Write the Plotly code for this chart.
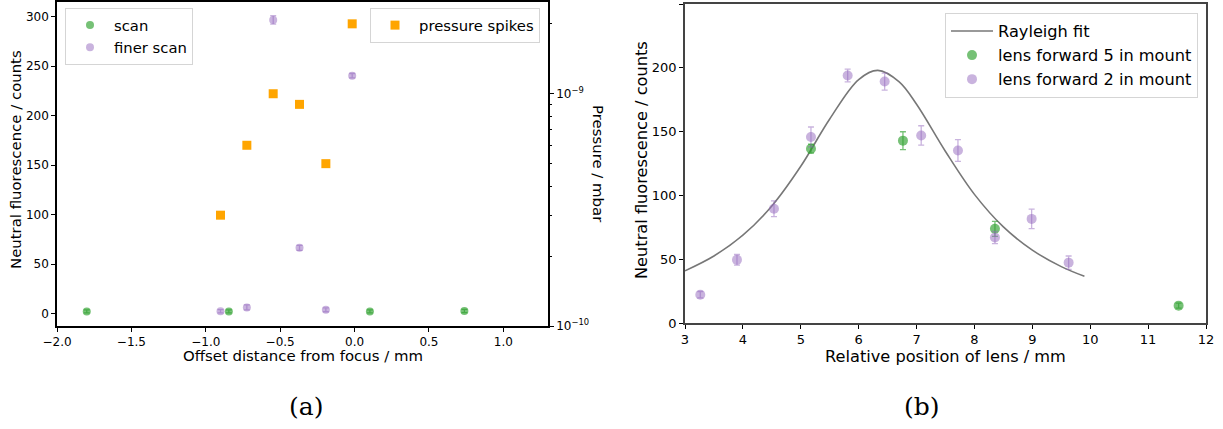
import plotly.graph_objects as go

# ---------------- data (panel a) ----------------
scan_x = [-1.80, -0.845, 0.103, 0.738]
scan_y = [2.3, 2.3, 2.3, 2.7]
scan_err = [1.5, 1.5, 1.5, 1.6]

finer_x = [-0.901, -0.724, -0.547, -0.370, -0.193, -0.016]
finer_y = [2.5, 6.4, 296.7, 66.5, 4.0, 240.4]
finer_err = [1.6, 2.5, 4.2, 2.5, 2.0, 2.2]

pressure_x = [-0.901, -0.724, -0.547, -0.370, -0.193, -0.016]
pressure_mbar = [3e-10, 6e-10, 1e-9, 9e-10, 5e-10, 2e-9]

# ---------------- data (panel b) ----------------
fwd2_x = [3.264, 3.898, 4.537, 5.176, 5.810, 6.449, 7.080, 7.715, 8.354, 8.988, 9.627]
fwd2_y = [22.2, 49.5, 89.5, 145.8, 193.9, 189.2, 147.0, 135.2, 67.0, 81.6, 47.3]
fwd2_err = [2.5, 4.2, 6.2, 7.8, 5.0, 6.7, 7.6, 8.5, 4.8, 7.6, 5.2]

fwd5_x = [5.176, 6.765, 8.354, 11.527]
fwd5_y = [136.6, 142.9, 73.8, 13.6]
fwd5_err = [3.5, 7.0, 5.9, 2.0]

fit_x = [3.0, 3.5, 4.0, 4.5, 5.0, 5.5, 6.0, 6.33, 6.7, 7.0, 7.5, 8.0, 8.5, 9.0, 9.5, 9.9]
fit_y = [40.9, 52.5, 68.8, 91.7, 122.8, 159.9, 190.8, 198.0, 189.0, 171.4, 134.4, 100.8, 75.3, 57.1, 44.2, 36.6]

# tick labels
left_xticks = [-2.0, -1.5, -1.0, -0.5, 0.0, 0.5, 1.0]
left_yticks = [0, 50, 100, 150, 200, 250, 300]
press_ticks = [1e-10, 1e-9]
press_ticktext = ["10<sup>\u221210</sup>", "10<sup>\u22129</sup>"]
right_xticks = [3, 4, 5, 6, 7, 8, 9, 10, 11, 12]
right_yticks = [0, 50, 100, 150, 200, 250]

GREEN = "rgba(44,160,44,0.65)"
PURPLE = "rgba(148,103,189,0.5)"
ORANGE = "#FFA500"
FONT = "DejaVu Sans"
W, H = 1223, 429

fig = go.Figure()

# panel a
fig.add_trace(go.Scatter(
    x=scan_x, y=scan_y, mode="markers", name="scan",
    marker=dict(color=GREEN, size=8),
    error_y=dict(type="data", array=scan_err, color=GREEN, thickness=1.3, width=3),
    xaxis="x", yaxis="y", legend="legend"))
fig.add_trace(go.Scatter(
    x=finer_x, y=finer_y, mode="markers", name="finer scan",
    marker=dict(color=PURPLE, size=8),
    error_y=dict(type="data", array=finer_err, color=PURPLE, thickness=1.3, width=3),
    xaxis="x", yaxis="y", legend="legend"))
fig.add_trace(go.Scatter(
    x=pressure_x, y=pressure_mbar, mode="markers", name="pressure spikes",
    marker=dict(color=ORANGE, size=9, symbol="square"),
    xaxis="x", yaxis="y2", legend="legend2"))

# panel b
fig.add_trace(go.Scatter(
    x=fit_x, y=fit_y, mode="lines", name="Rayleigh fit",
    line=dict(color="#777777", width=1.6, shape="spline", smoothing=1.0),
    xaxis="x2", yaxis="y3", legend="legend3"))
fig.add_trace(go.Scatter(
    x=fwd5_x, y=fwd5_y, mode="markers", name="lens forward 5 in mount",
    marker=dict(color=GREEN, size=10),
    error_y=dict(type="data", array=fwd5_err, color=GREEN, thickness=1.3, width=3),
    xaxis="x2", yaxis="y3", legend="legend3"))
fig.add_trace(go.Scatter(
    x=fwd2_x, y=fwd2_y, mode="markers", name="lens forward 2 in mount",
    marker=dict(color=PURPLE, size=10),
    error_y=dict(type="data", array=fwd2_err, color=PURPLE, thickness=1.3, width=3),
    xaxis="x2", yaxis="y3", legend="legend3"))

def px_x(p):
    return p / W

def px_y(p):
    return 1 - p / H

def axis_style(size, color="black"):
    return dict(showgrid=False, zeroline=False, showline=True, linecolor=color,
                linewidth=1.5, ticks="outside", ticklen=4, tickwidth=1.2, tickcolor="black",
                tickfont=dict(family=FONT, size=size, color="black"), automargin=False)

def legend_style(size, itemwidth):
    return dict(font=dict(family=FONT, size=size, color="black"), bgcolor="rgba(255,255,255,0.8)",
                bordercolor="#d5d5d5", borderwidth=1, itemwidth=itemwidth)

fig.update_layout(
    template="none",
    width=W, height=H, margin=dict(l=0, r=0, t=0, b=0, pad=0, autoexpand=False),
    paper_bgcolor="white", plot_bgcolor="rgba(0,0,0,0)",
    font=dict(family=FONT, color="black"),
    xaxis=dict(domain=[px_x(57), px_x(548)], range=[-2.0, 1.3], anchor="y",
               tickvals=left_xticks, tickformat=".1f", mirror=True, **axis_style(12)),
    yaxis=dict(domain=[px_y(326), px_y(2)], range=[-12.4, 314.8], anchor="x",
               tickvals=left_yticks, **axis_style(12)),
    yaxis2=dict(type="log", overlaying="y", side="right", anchor="x",
                range=[-10, -8.605], tickvals=press_ticks, ticktext=press_ticktext,
                minor=dict(ticks="outside", ticklen=2.5, tickcolor="black",
                           tickvals=[k * 1e-10 for k in range(2, 10)] + [2e-9]),
                **axis_style(12)),
    xaxis2=dict(domain=[px_x(685), px_x(1206)], range=[3, 12], anchor="y3",
                tickvals=right_xticks, mirror=True, **axis_style(13, "#444444")),
    yaxis3=dict(domain=[px_y(323), px_y(4)], range=[0, 250], anchor="x2",
                tickvals=right_yticks, mirror=True, **axis_style(13, "#444444")),
    legend=dict(x=px_x(65), y=px_y(8), xanchor="left", yanchor="top", **legend_style(14.8, 38)),
    legend2=dict(x=px_x(540), y=px_y(8), xanchor="right", yanchor="top", **legend_style(14.8, 38)),
    legend3=dict(x=px_x(1198), y=px_y(13), xanchor="right", yanchor="top", **legend_style(16.2, 42)),
    showlegend=True,
)

annotations = [
    dict(text="Offset distance from focus / mm", x=px_x(302.5), y=px_y(356), textangle=0, size=14.9),
    dict(text="Neutral fluorescence / counts", x=px_x(16), y=px_y(160), textangle=-90, size=14.9),
    dict(text="Pressure / mbar", x=px_x(598), y=px_y(164), textangle=90, size=14.9),
    dict(text="Relative position of lens / mm", x=px_x(945.5), y=px_y(356), textangle=0, size=16.2),
    dict(text="Neutral fluorescence / counts", x=px_x(641), y=px_y(160), textangle=-90, size=16.2),
]
for a in annotations:
    size = a.pop("size")
    fig.add_annotation(xref="paper", yref="paper", showarrow=False,
                       font=dict(family=FONT, size=size, color="black"),
                       xanchor="center", yanchor="middle", **a)

cap_font = dict(family="DejaVu Serif", size=25, color="black")
fig.add_annotation(text="(a)", x=px_x(306), y=px_y(406), xref="paper", yref="paper",
                   showarrow=False, font=cap_font, xanchor="center", yanchor="middle")
fig.add_annotation(text="(b)", x=px_x(922), y=px_y(406), xref="paper", yref="paper",
                   showarrow=False, font=cap_font, xanchor="center", yanchor="middle")

fig.write_html("out.html", config={"displayModeBar": False},
               post_script="document.body.style.margin='0px';document.body.style.overflow='hidden';")
